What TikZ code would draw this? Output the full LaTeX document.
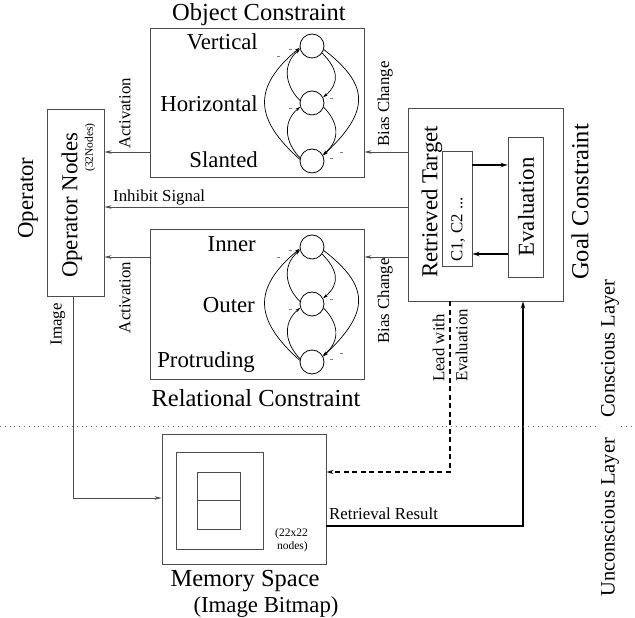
\documentclass[tikz,border=0pt]{standalone}
\usepackage{fontspec}
\setmainfont{Liberation Serif}
\usetikzlibrary{arrows.meta,calc}
\begin{document}
\begin{tikzpicture}[x=1pt,y=1pt,
  box/.style={draw=black!70,line width=0.9pt,inner sep=0pt,rectangle},
  cir/.style={draw=black,line width=0.8pt,circle,inner sep=0pt,minimum size=24pt},
  conn/.style={draw=black!70,line width=0.9pt,-{Stealth[length=7pt,width=3.5pt]}},
  dashconn/.style={draw=black,line width=1.4pt,dash pattern=on 5pt off 3.5pt,-{Stealth[length=7pt,width=4pt]}},
  heavyconn/.style={draw=black,line width=2.4pt,-{Stealth[length=7pt,width=4.5pt]}},
  arcarrow/.style={draw=black,line width=0.7pt,-{Stealth[length=5pt,width=3pt]}},
  minusmark/.style={draw=black!50,line width=0.4pt},
  dotline/.style={draw=black!60,line width=0.8pt,dash pattern=on 0.8pt off 4pt},
  titletxt/.style={font=\fontsize{24.5}{28}\selectfont,inner sep=0pt},
  labtxt/.style={font=\fontsize{22.8}{26}\selectfont,inner sep=0pt},
  smalltxt/.style={font=\fontsize{16.8}{23}\selectfont,inner sep=0pt},
  tinytxt/.style={font=\fontsize{11.5}{13}\selectfont,inner sep=0pt},
  layertxt/.style={font=\fontsize{20.5}{24}\selectfont,inner sep=0pt}]
\useasboundingbox (0,0) rectangle (635,618);

% boxes
\node[box,minimum width=214pt,minimum height=149pt] (obj) at (257,515.5) {};
\node[box,minimum width=214pt,minimum height=150pt] (rel) at (257,314) {};
\node[box,minimum width=57pt,minimum height=187pt] (op) at (75.5,415.5) {};
\node[box,minimum width=155pt,minimum height=193pt] (goal) at (485.5,413.5) {};
\node[box,minimum width=30pt,minimum height=115pt] (cb) at (457,409.5) {};
\node[box,minimum width=35pt,minimum height=140pt] (ev) at (525.5,411) {};
\node[box,minimum width=164pt,minimum height=130pt] (mem) at (244,119) {};
\node[box,minimum width=87pt,minimum height=97pt] (msq) at (219.5,117.5) {};
\node[box,minimum width=43pt,minimum height=57pt] (mrect) at (218.5,117.5) {};
\draw[draw=black!70,line width=0.9pt] (mrect.west) -- (mrect.east);

% circles
\node[cir] (ov) at (312,572) {};
\node[cir] (oh) at (312,515) {};
\node[cir] (os) at (312,457) {};
\node[cir] (ri) at (312,371) {};
\node[cir] (ro) at (312,314) {};
\node[cir] (rp) at (312,256) {};

% circle arcs (object)
\draw[arcarrow] (ov.-17) .. controls +(45,-35) and +(48,45) .. (os.27);
\draw[arcarrow] (os.172) .. controls +(-45,40) and +(-48,-40) .. (ov.188);
\draw[arcarrow] (ov.-35) .. controls +(15,-15) and +(18,15) .. (oh.27);
\draw[arcarrow] (oh.-20) .. controls +(15,-15) and +(18,15) .. (os.30);
\draw[arcarrow] (oh.168) .. controls +(-15,15) and +(-18,-15) .. (ov.195);
\draw[arcarrow] (os.165) .. controls +(-15,15) and +(-18,-15) .. (oh.198);
% circle arcs (relational)
\draw[arcarrow] (ri.-17) .. controls +(45,-35) and +(48,45) .. (rp.27);
\draw[arcarrow] (rp.172) .. controls +(-45,40) and +(-48,-40) .. (ri.188);
\draw[arcarrow] (ri.-35) .. controls +(15,-15) and +(18,15) .. (ro.27);
\draw[arcarrow] (ro.-20) .. controls +(15,-15) and +(18,15) .. (rp.30);
\draw[arcarrow] (ro.168) .. controls +(-15,15) and +(-18,-15) .. (ri.195);
\draw[arcarrow] (rp.165) .. controls +(-15,15) and +(-18,-15) .. (ro.198);

% small minus marks
\draw[minusmark] (276.8,561.7) -- ++(3,0);
\draw[minusmark] (288.5,568.3) -- ++(3,0);
\draw[minusmark] (329.5,520) -- ++(3,0);
\draw[minusmark] (288.5,510) -- ++(3,0);
\draw[minusmark] (339.5,466) -- ++(3,0);
\draw[minusmark] (329.5,459.3) -- ++(3,0);
\draw[minusmark] (276.8,360.7) -- ++(3,0);
\draw[minusmark] (288.5,367.3) -- ++(3,0);
\draw[minusmark] (329.5,319) -- ++(3,0);
\draw[minusmark] (288.5,309) -- ++(3,0);
\draw[minusmark] (339.5,265) -- ++(3,0);
\draw[minusmark] (329.5,258.3) -- ++(3,0);

% texts
\node[titletxt,anchor=base] (tobj) at (259,597) {Object Constraint};
\node[labtxt,anchor=base east] (lv) at (258,568) {Vertical};
\node[labtxt,anchor=base east] (lh) at (258,506) {Horizontal};
\node[labtxt,anchor=base east] (ls) at (258,450) {Slanted};
\node[labtxt,anchor=base east] (li) at (256,366) {Inner};
\node[labtxt,anchor=base east] (lo) at (255,305) {Outer};
\node[labtxt,anchor=base east] (lp) at (255,250) {Protruding};
\node[titletxt,anchor=base] (trel) at (256,211) {Relational Constraint};
\node[labtxt,rotate=90] (topr) at (28,420) {Operator};
\node[labtxt,rotate=90] (topn) at (72,412.5) {Operator Nodes};
\node[tinytxt,rotate=90] (t32) at (90,470.5) {(32Nodes)};
\node[labtxt,rotate=90] (tret) at (432,416) {Retrieved Target};
\node[titletxt,rotate=90] (tgoal) at (580,416) {Goal Constraint};
\node[labtxt,rotate=90] (tev) at (526,411) {Evaluation};
\node[smalltxt,rotate=90,anchor=west] (tc) at (458,356) {C1, C2 ...};
\node[titletxt,anchor=base] (tmem) at (245,31) {Memory Space};
\node[labtxt,anchor=base] (tbit) at (266,5) {(Image Bitmap)};
\node[tinytxt,align=right,anchor=south east] (t22) at (308,66) {(22x22\\nodes)};

% connectors
\coordinate (a1) at (0,466);
\coordinate (a2) at (0,411);
\coordinate (a3) at (0,361);
\draw[conn] (obj.west |- a1) -- (op.east |- a1);
\draw[conn] (goal.west |- a1) -- (obj.east |- a1);
\draw[conn] (goal.west |- a2) -- (op.east |- a2);
\draw[conn] (goal.west |- a3) -- (rel.east |- a3);
\draw[conn] (rel.west |- a3) -- (op.east |- a3);
\coordinate (imgc) at (73,120);
\draw[conn] (op.south -| imgc) -- (imgc) -- (mem.west |- imgc);
\coordinate (leadc) at (450,146);
\draw[dashconn] (goal.south -| leadc) -- (leadc) -- (mem.east |- leadc);
\coordinate (retc) at (523,92);
\draw[heavyconn] (mem.east |- retc) -- (retc) -- (goal.south -| retc);
\coordinate (b1) at (0,453);
\coordinate (b2) at (0,364);
\draw[heavyconn] (cb.east |- b1) -- (ev.west |- b1);
\draw[heavyconn] (ev.west |- b2) -- (cb.east |- b2);

% connector labels
\node[smalltxt,rotate=90,anchor=west] (lact1) at (125,469) {Activation};
\node[smalltxt,rotate=90,anchor=east] (lact2) at (125,356) {Activation};
\node[smalltxt,rotate=90,anchor=west] (lbias1) at (385,471) {Bias Change};
\node[smalltxt,rotate=90,anchor=east] (lbias2) at (385,360) {Bias Change};
\node[smalltxt,anchor=base west] (linh) at (113,416) {Inhibit Signal};
\node[smalltxt,rotate=90,anchor=east] (limg) at (58,315) {Image};
\node[smalltxt,rotate=90,anchor=west,align=left] (llead) at (450,236) {Lead with\\Evaluation};
\node[smalltxt,anchor=base west] (lret) at (329,98) {Retrieval Result};

% layers
\draw[dotline] (0,192) -- (600,192);
\draw[dotline] (621,192) -- (635,192);
\node[layertxt,rotate=90,anchor=west] (lcon) at (610,200) {Conscious Layer};
\node[layertxt,rotate=90,anchor=west] (lunc) at (610,21) {Unconscious Layer};
\end{tikzpicture}
\end{document}
